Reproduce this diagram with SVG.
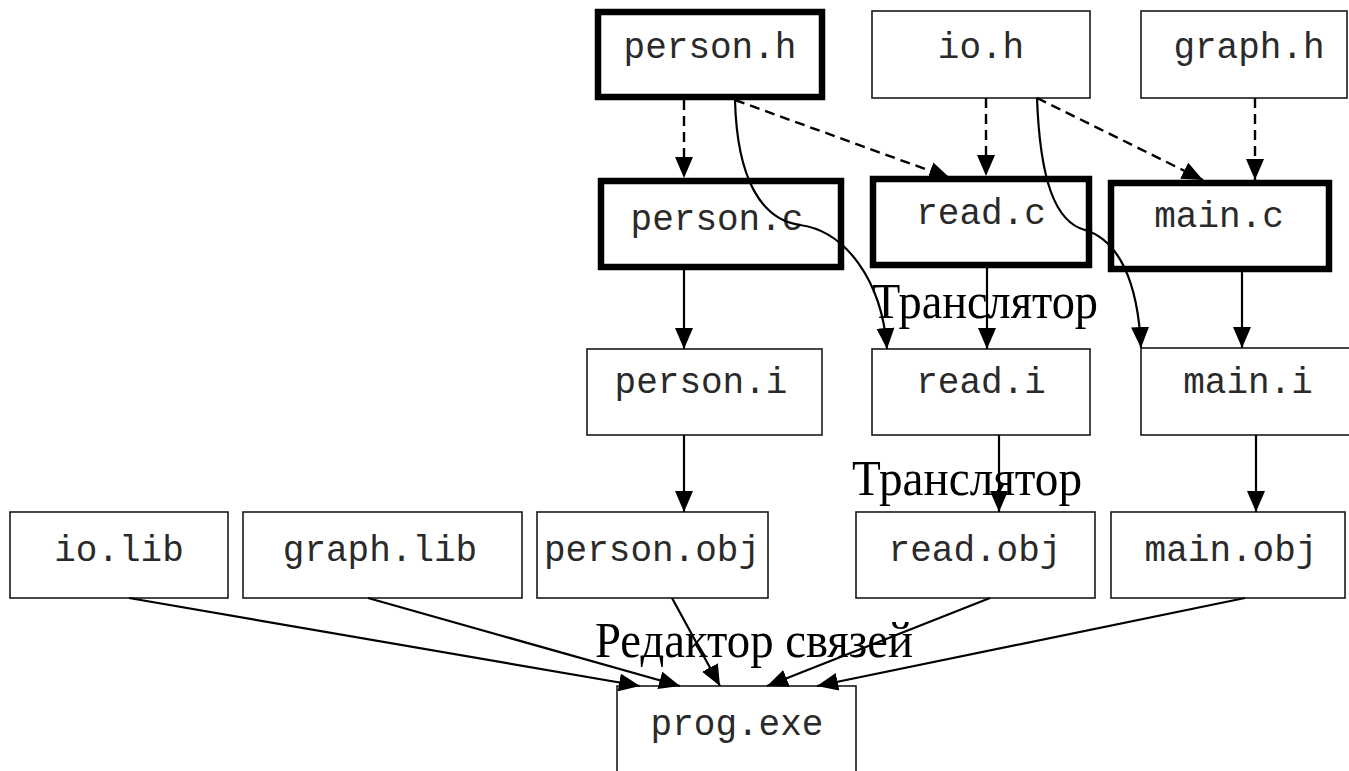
<svg xmlns="http://www.w3.org/2000/svg" width="1349" height="771" viewBox="0 0 1349 771">
  <style>
    .box { fill: #fff; stroke: #1a1a1a; stroke-width: 1.6; }
    .src { fill: #fff; stroke: #000; stroke-width: 6.5; }
    .lbl { font-family: "Liberation Mono", "Courier New", monospace; font-size: 36px; fill: #2a2a2a; text-anchor: middle; }
    .stage { font-family: "Liberation Serif", "Times New Roman", serif; font-size: 50px; fill: #000; }
    .edge { fill: none; stroke: #000; stroke-width: 2.2; marker-end: url(#arrow); }
    .dash { stroke-width: 2.4; stroke-dasharray: 10 6; }
  </style>
  <defs>
    <marker id="arrow" markerUnits="userSpaceOnUse" markerWidth="22" markerHeight="20" refX="21" refY="9" orient="auto">
      <path d="M0,0 L21,9 L0,18 z" fill="#000"/>
    </marker>
  </defs>

  <rect width="1349" height="771" fill="#fff"/>

  <!-- headers -->
  <g id="person_h"><rect class="src" x="598" y="12" width="224" height="85"/><text class="lbl" x="710" y="58">person.h</text></g>
  <g id="io_h"><rect class="box" x="872" y="11" width="218" height="87"/><text class="lbl" x="981" y="58">io.h</text></g>
  <g id="graph_h"><rect class="box" x="1141" y="11" width="206" height="87"/><text class="lbl" x="1249" y="58">graph.h</text></g>

  <!-- sources -->
  <g id="person_c"><rect class="src" x="601" y="181" width="240" height="86"/><text class="lbl" x="717" y="230">person.c</text></g>
  <g id="read_c"><rect class="src" x="873" y="179" width="216" height="86"/><text class="lbl" x="981" y="224">read.c</text></g>
  <g id="main_c"><rect class="src" x="1111" y="183" width="218" height="86"/><text class="lbl" x="1219" y="227">main.c</text></g>

  <!-- preprocessed -->
  <g id="person_i"><rect class="box" x="587" y="349" width="235" height="86"/><text class="lbl" x="701" y="393">person.i</text></g>
  <g id="read_i"><rect class="box" x="872" y="349" width="218" height="86"/><text class="lbl" x="981" y="393">read.i</text></g>
  <g id="main_i"><rect class="box" x="1141" y="348" width="210" height="87"/><text class="lbl" x="1248" y="393">main.i</text></g>

  <!-- objects and libraries -->
  <g id="io_lib"><rect class="box" x="10" y="512" width="218" height="86"/><text class="lbl" x="119" y="561">io.lib</text></g>
  <g id="graph_lib"><rect class="box" x="243" y="512" width="279" height="86"/><text class="lbl" x="380" y="561">graph.lib</text></g>
  <g id="person_obj"><rect class="box" x="537" y="512" width="231" height="86"/><text class="lbl" x="652" y="561">person.obj</text></g>
  <g id="read_obj"><rect class="box" x="856" y="512" width="239" height="86"/><text class="lbl" x="975" y="561">read.obj</text></g>
  <g id="main_obj"><rect class="box" x="1111" y="512" width="234" height="86"/><text class="lbl" x="1231" y="561">main.obj</text></g>

  <!-- executable -->
  <g id="prog_exe"><rect class="box" x="617" y="686" width="239" height="100"/><text class="lbl" x="737" y="735">prog.exe</text></g>

  <!-- connectors -->
  <g id="edges">
    <path class="edge dash" d="M684,100 L684,178"/>
    <path class="edge dash" d="M735,100 L950,178"/>
    <path class="edge dash" d="M986,98 L986,176"/>
    <path class="edge dash" d="M1037,98 L1203,180"/>
    <path class="edge dash" d="M1255,98 L1255,180"/>

    <path class="edge" d="M735,100 C737,180 762,220 800,225 C845,231 882,280 887,349"/>
    <path class="edge" d="M1037,98 C1040,180 1055,222 1085,230 C1118,240 1138,280 1141,348"/>

    <path class="edge" d="M684,268 L684,349"/>
    <path class="edge" d="M987,266 L987,349"/>
    <path class="edge" d="M1242,270 L1242,348"/>

    <path class="edge" d="M684,435 L684,512"/>
    <path class="edge" d="M999,435 L999,512"/>
    <path class="edge" d="M1256,435 L1256,512"/>

    <path class="edge" d="M129,598 L640,686"/>
    <path class="edge" d="M368,598 L680,686"/>
    <path class="edge" d="M672,598 L720,686"/>
    <path class="edge" d="M990,598 L767,686"/>
    <path class="edge" d="M1245,598 L817,686"/>
  </g>

  <!-- stage labels -->
  <text class="stage" x="872" y="318" textLength="226" lengthAdjust="spacingAndGlyphs">Транслятор</text>
  <text class="stage" x="852" y="495" textLength="230" lengthAdjust="spacingAndGlyphs">Транслятор</text>
  <text class="stage" x="595" y="657" textLength="318" lengthAdjust="spacingAndGlyphs">Редактор связей</text>
</svg>
